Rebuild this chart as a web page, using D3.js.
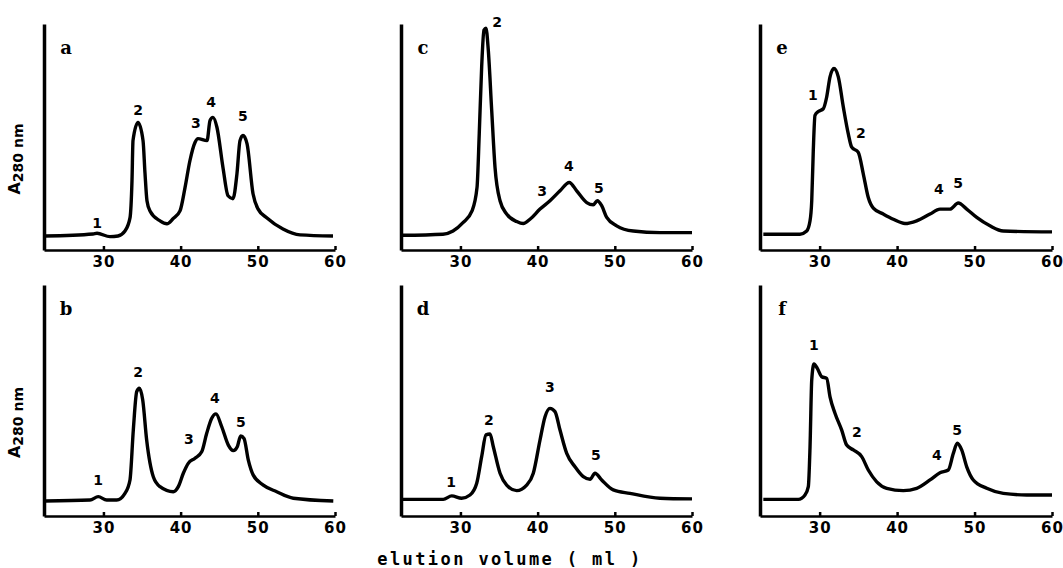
<!DOCTYPE html>
<html>
<head>
<meta charset="utf-8">
<script src="https://cdn.jsdelivr.net/npm/d3@7"></script>
<style>
  body { margin: 0; background: #fff; }
  .tick text { font-family: "DejaVu Sans", sans-serif; font-weight: bold; font-size: 15px; letter-spacing: 1px; }
</style>
</head>
<body>
<script>
// elution profiles, [volume (ml), A280]
var curveA = [[22.4,0.062],[28.65,0.071],[29.17,0.074],[30.85,0.059],[31.89,0.062],[32.79,0.084],[33.44,0.142],[33.7,0.307],
  [33.83,0.484],[34.48,0.564],[35.13,0.484],[35.38,0.342],[35.64,0.218],[36.03,0.173],[37.33,0.129],[38.23,0.116],[39.01,0.138],
  [39.92,0.173],[40.57,0.276],[41.21,0.396],[41.86,0.476],[42.25,0.493],[43.42,0.484],[43.81,0.573],[44.19,0.587],[44.71,0.542],
  [45.49,0.364],[46.14,0.24],[46.78,0.227],[47.3,0.338],[47.69,0.484],[48.08,0.507],[48.6,0.471],[49.38,0.249],[50.02,0.182],
  [51.19,0.142],[53.26,0.093],[55.47,0.067],[59.74,0.062]];
var curveB = [[22.43,0.065],[28.26,0.069],[29.33,0.084],[30.42,0.069],[31.72,0.069],[32.79,0.098],[33.44,0.156],[33.87,0.372],
  [34.31,0.538],[34.65,0.553],[35.09,0.502],[35.6,0.329],[36.46,0.17],[37.33,0.127],[39.05,0.105],[39.7,0.127],[40.35,0.185],
  [40.99,0.228],[41.86,0.25],[42.73,0.278],[43.38,0.358],[44.03,0.423],[44.58,0.442],[45.32,0.387],[46.18,0.307],[46.82,0.283],
  [47.34,0.3],[47.78,0.346],[48.21,0.336],[48.77,0.242],[49.41,0.177],[50.71,0.134],[52.45,0.105],[54.6,0.077],[59.78,0.065]];
var curveC = [[22.39,0.065],[27.74,0.07],[29.04,0.084],[30.33,0.121],[31.5,0.173],[32.15,0.277],[32.44,0.516],[32.75,0.81],
  [33.05,0.973],[33.31,0.981],[33.61,0.884],[34.05,0.618],[34.48,0.366],[35.13,0.218],[35.99,0.159],[37.29,0.126],[38.14,0.117],
  [39.01,0.136],[40.31,0.181],[41.6,0.218],[42.9,0.262],[44.1,0.299],[45.06,0.262],[46.36,0.21],[47.21,0.2],[47.73,0.218],
  [48.3,0.196],[48.95,0.144],[50.24,0.107],[52.39,0.084],[55.85,0.077],[60,0.077]];
var curveD = [[22.39,0.072],[27.78,0.072],[28.87,0.087],[30.16,0.077],[31.24,0.091],[32.11,0.142],[32.75,0.257],[33.31,0.351],
  [33.83,0.355],[34.26,0.3],[35.13,0.185],[35.99,0.134],[37.29,0.11],[38.58,0.134],[39.44,0.185],[40.31,0.329],[40.96,0.43],
  [41.6,0.466],[42.25,0.452],[42.9,0.372],[43.77,0.271],[44.84,0.213],[45.92,0.17],[46.79,0.159],[47.43,0.185],[48.3,0.156],
  [49.8,0.113],[51.96,0.098],[55.85,0.077],[60,0.074]];
var curveE = [[22.73,0.07],[27.46,0.07],[28.33,0.084],[28.76,0.129],[28.98,0.218],[29.18,0.44],[29.4,0.596],[29.83,0.613],
  [30.47,0.625],[30.91,0.677],[31.34,0.766],[31.85,0.803],[32.41,0.766],[33.06,0.632],[33.7,0.514],[34.14,0.455],[34.99,0.432],
  [35.64,0.336],[36.28,0.232],[36.93,0.185],[38.22,0.159],[39.51,0.136],[41.02,0.117],[42.53,0.129],[44.25,0.159],[45.54,0.181],
  [46.83,0.181],[47.9,0.208],[48.99,0.181],[50.28,0.144],[51.99,0.107],[53.71,0.084],[60,0.08]];
var curveF = [[22.73,0.072],[27.25,0.072],[28.11,0.091],[28.54,0.127],[28.76,0.3],[28.98,0.589],[29.27,0.658],[29.7,0.639],
  [30.27,0.603],[30.91,0.596],[31.34,0.516],[31.98,0.445],[32.85,0.372],[33.49,0.307],[34.35,0.286],[35.43,0.257],[36.28,0.199],
  [37.37,0.148],[38.66,0.12],[40.8,0.11],[42.53,0.12],[44.25,0.156],[45.54,0.187],[46.61,0.199],[47.26,0.271],[47.77,0.315],
  [48.34,0.286],[48.99,0.213],[49.84,0.156],[51.57,0.12],[53.71,0.098],[56.74,0.091],[60,0.091]];

// peak numbers: [label, volume, A280]
var peaksA = [["1",29.17,0.12],["2",34.48,0.618],["3",41.99,0.56],["4",43.94,0.653],["5",48.08,0.591]];
var peaksB = [["1",29.3,0.156],["2",34.48,0.623],["3",41.08,0.333],["4",44.45,0.511],["5",47.82,0.407]];
var peaksC = [["2",34.74,1.01],["3",40.57,0.262],["4",44.06,0.373],["5",47.95,0.276]];
var peaksD = [["1",28.78,0.147],["2",33.7,0.416],["3",41.6,0.558],["5",47.56,0.264]];
var peaksE = [["1",29.14,0.684],["2",35.34,0.516],["4",45.41,0.271],["5",47.87,0.298]];
var peaksF = [["1",29.27,0.74],["2",34.82,0.364],["4",45.15,0.264],["5",47.74,0.372]];

var panelNames = ["a", "b", "c", "d", "e", "f"];
var xTicks = [30, 40, 50, 60];
var xTitle = "elution volume ( ml )";

(function() {
    var w = 1063, h = 568;
    var colLeft = [44, 401, 760], colRight = [335, 692, 1052];
    var rowTop = [24, 285], rowBottom = [250, 516];

    var svg = d3.select("body")
                .append("svg")
                .attr("width", w)
                .attr("height", h);

    var curves = [curveA, curveB, curveC, curveD, curveE, curveF];
    var peaks = [peaksA, peaksB, peaksC, peaksD, peaksE, peaksF];

    for (var i = 0; i < panelNames.length; i++) {
        var col = Math.floor(i / 2), row = i % 2;
        var x0 = colLeft[col], x1 = colRight[col];
        var y0 = rowTop[row], y1 = rowBottom[row];

        var xScale = d3.scaleLinear()
                        .domain([22.3, 60])
                        .range([x0, x1]);
        var yScale = d3.scaleLinear()
                        .domain([0, 1])
                        .range([y1, y0]);

        var g = svg.append("g");

        var xAxis = d3.axisBottom()
                    .scale(xScale)
                    .tickValues(xTicks)
                    .tickSizeInner(-4)
                    .tickSizeOuter(0)
                    .tickPadding(6);
        var yAxis = d3.axisLeft()
                    .scale(yScale)
                    .tickValues([])
                    .tickSizeOuter(0);

        var gx = g.append("g")
            .attr("transform", "translate(0," + y1 + ")")
            .call(xAxis);
        gx.select(".domain").attr("stroke-width", 2.5);
        gx.selectAll(".tick line").attr("stroke-width", 2.5);

        var gy = g.append("g")
            .attr("transform", "translate(" + x0 + ",0)")
            .call(yAxis);
        gy.select(".domain").attr("stroke-width", 3.5);

        var line = d3.line()
                    .x(d => xScale(d[0]))
                    .y(d => yScale(d[1]))
                    .curve(d3.curveMonotoneX);

        g.append("path")
            .datum(curves[i])
            .attr("d", line)
            .attr("fill", "none")
            .attr("stroke", "#000")
            .attr("stroke-width", 3.4)
            .attr("stroke-linejoin", "round");

        g.selectAll(".peak")
            .data(peaks[i])
            .enter()
            .append("text")
            .attr("x", d => xScale(d[1]))
            .attr("y", d => yScale(d[2]))
            .attr("text-anchor", "middle")
            .attr("dominant-baseline", "central")
            .style("font-family", "DejaVu Sans, sans-serif")
            .style("font-weight", "bold")
            .style("font-size", "14px")
            .text(d => d[0]);

        g.append("text")
            .attr("x", x0 + 22)
            .attr("y", y0 + 23)
            .attr("text-anchor", "middle")
            .attr("dominant-baseline", "central")
            .style("font-family", "DejaVu Serif, serif")
            .style("font-weight", "bold")
            .style("font-size", "18px")
            .text(panelNames[i]);

        if (col == 0) {
            var lab = g.append("text")
                .attr("transform", "translate(20," + ((y0 + y1) / 2 + 22) + ") rotate(-90)")
                .attr("text-anchor", "middle")
                .style("font-family", "DejaVu Sans, sans-serif")
                .style("font-weight", "bold")
                .style("font-size", "14px");
            lab.append("tspan").style("font-size", "16px").text("A");
            lab.append("tspan").attr("dy", 3).text("280 nm");
        }
    }

    svg.append("text")
        .attr("x", 510)
        .attr("y", 559)
        .attr("text-anchor", "middle")
        .attr("dominant-baseline", "central")
        .style("font-family", "DejaVu Sans Mono, monospace")
        .style("font-weight", "bold")
        .style("font-size", "17px")
        .style("letter-spacing", "2.4px")
        .text(xTitle);
})();
</script>
</body>
</html>
